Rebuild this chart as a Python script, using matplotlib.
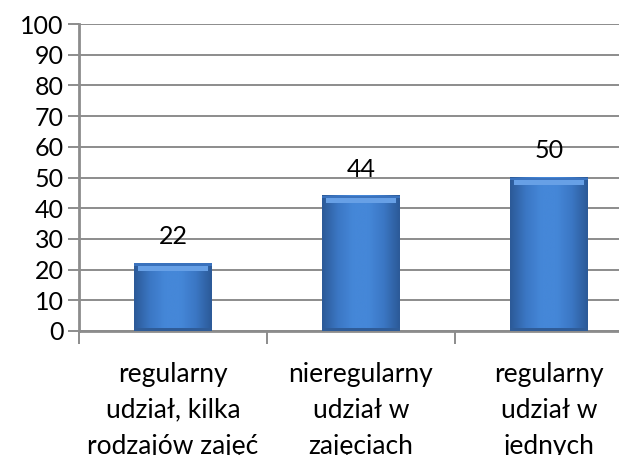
import numpy as np
import matplotlib.pyplot as plt
from matplotlib.colors import LinearSegmentedColormap

categories = ["regularny\nudział, kilka\nrodzajów zajęć",
              "nieregularny\nudział w\nzajęciach",
              "regularny\nudział w\njednych"]
values = [22, 44, 50]
yticks = list(range(0, 101, 10))

plt.rcParams['font.family'] = ['Lato', 'DejaVu Sans']

fig = plt.figure(figsize=(6.19, 4.55), dpi=100)
ax = fig.add_axes([79 / 619, 124 / 455, 564 / 619, 307 / 455])

x = np.arange(len(categories))
w = 0.41
grid_c = '#8c8c8c'

ax.yaxis.grid(True, color=grid_c, linewidth=1.4)
ax.set_axisbelow(True)

# horizontal gradient for a bevelled look
cmap = LinearSegmentedColormap.from_list(
    'bev', ['#2c5a98', '#3b77c4', '#4587d8', '#4587d8', '#3b77c4', '#2c5a98'])
grad = np.linspace(0, 1, 64).reshape(1, -1)

bars = ax.bar(x, values, width=w, color='#4283d3', edgecolor='none', zorder=2)
for b, v in zip(bars, values):
    x0, x1 = b.get_x(), b.get_x() + b.get_width()
    ax.imshow(grad, cmap=cmap, aspect='auto', extent=(x0, x1, 0, v),
              zorder=3, interpolation='bicubic')
    # lighter top face and darker bottom
    ax.add_patch(plt.Rectangle((x0 + 0.02, v - 2.4), x1 - x0 - 0.04, 2.4,
                               color='#67a0e6', zorder=4, linewidth=0))
    ax.add_patch(plt.Rectangle((x0, v - 0.7), x1 - x0, 0.7,
                               color='#3a72bd', zorder=4, linewidth=0))
    ax.add_patch(plt.Rectangle((x0, 0), x1 - x0, 1.0,
                               color='#2f5c98', zorder=4, linewidth=0))
    ax.text(b.get_x() + b.get_width() / 2, v + 5, str(v), ha='center',
            va='bottom', fontsize=18)

ax.set_xlim(-0.5, len(categories) - 0.5)
ax.set_ylim(0, 100)
ax.set_yticks(yticks)

ax.set_xticks(x)
ax.set_xticklabels(categories, fontsize=19, linespacing=1.55)
ax.tick_params(axis='x', length=0, pad=22)
ax.set_xticks(np.arange(len(categories) + 1) - 0.5, minor=True)
ax.tick_params(axis='x', which='minor', length=9, width=1.4, color=grid_c)
ax.tick_params(axis='y', length=8, width=1.4, color=grid_c, labelsize=18, pad=3)

for s in ['top', 'right']:
    ax.spines[s].set_visible(False)
for s in ['left', 'bottom']:
    ax.spines[s].set_color(grid_c)
    ax.spines[s].set_linewidth(2)

fig.savefig('out.png', dpi=100)
